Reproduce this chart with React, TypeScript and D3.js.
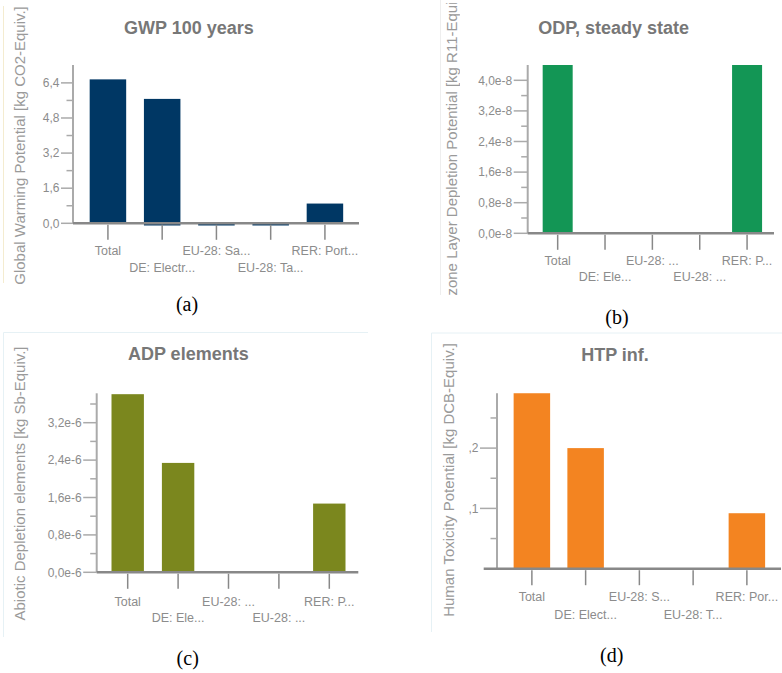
import React from "react";
import * as d3 from "d3";

// ---- data ----
const gwpLabels = ["Total", "DE: Electr...", "EU-28: Sa...", "EU-28: Ta...", "RER: Port..."];
const gwpPos = [6.56, 5.67, 0, 0, 0.9];
const gwpNeg = [0, -0.1, -0.1, -0.1, 0];
const gwpMajor = [0, 1.6, 3.2, 4.8, 6.4];
const gwpMinor = [0.8, 2.4, 4.0, 5.6];

const odpLabels = ["Total", "DE: Ele...", "EU-28: ...", "EU-28: ...", "RER: P..."];
const odpPos = [4.4e-8, 0, 0, 0, 4.4e-8];
const odpNeg = [0, 0, 0, 0, 0];
const odpMajor = [0, 0.8e-8, 1.6e-8, 2.4e-8, 3.2e-8, 4.0e-8];
const odpMinor = [0.4e-8, 1.2e-8, 2.0e-8, 2.8e-8, 3.6e-8];

const adpLabels = ["Total", "DE: Ele...", "EU-28: ...", "EU-28: ...", "RER: P..."];
const adpPos = [3.81e-6, 2.34e-6, 0, 0, 1.47e-6];
const adpNeg = [0, 0, 0, 0, 0];
const adpMajor = [0, 0.8e-6, 1.6e-6, 2.4e-6, 3.2e-6];
const adpMinor = [0.4e-6, 1.2e-6, 2.0e-6, 2.8e-6, 3.6e-6];

const htpLabels = ["Total", "DE: Elect...", "EU-28: S...", "EU-28: T...", "RER: Por..."];
const htpPos = [0.291, 0.2, 0, 0, 0.092];
const htpNeg = [0, 0, 0, 0, 0];
const htpMajor = [0.1, 0.2];
const htpMinor = [0.05, 0.15, 0.25];

const comma = (d: number) => d.toFixed(1).replace(".", ",");
const expFmt = (e: number) => (d: number) => comma(d / Math.pow(10, -e)) + "e-" + e;

const panels = [
  {
    title: "GWP 100 years", yTitle: "Global Warming Potential [kg CO2-Equiv.]",
    labels: gwpLabels, pos: gwpPos, neg: gwpNeg, major: gwpMajor, minor: gwpMinor,
    fmt: comma, color: "#003764",
    axisX: 73, top: 65, zero: 223.3, yMax: 7.215, bandStart: 80.8, step: 54.25, barW: 36.5,
    axisStart: 73, axisEnd: 359, row1: 254.5, row2: 271.5, majorLen: 12,
    titleX: 189, titleY: 34, yTitleX: 20, yTitleY: 145.5,
    border: [[3.5, 6, 3.5, 283]], borderColor: "#f4ecd0",
    clip: null as null | number[], caption: "(a)", capX: 187, capY: 311,
  },
  {
    title: "ODP, steady state", yTitle: "Ozone Layer Depletion Potential [kg R11-Equiv.]",
    labels: odpLabels, pos: odpPos, neg: odpNeg, major: odpMajor, minor: odpMinor,
    fmt: expFmt(8), color: "#139655",
    axisX: 527.7, top: 65, zero: 233.3, yMax: 4.4e-8, bandStart: 534, step: 47.35, barW: 30,
    axisStart: 527.7, axisEnd: 774, row1: 264.5, row2: 281, majorLen: 14,
    titleX: 613.7, titleY: 34, yTitleX: 452, yTitleY: 147,
    border: [[440.5, 0, 440.5, 295]], borderColor: "#eeeeee",
    clip: [430, 3, 30, 292], caption: "(b)", capX: 617, capY: 324,
  },
  {
    title: "ADP elements", yTitle: "Abiotic Depletion elements [kg Sb-Equiv.]",
    labels: adpLabels, pos: adpPos, neg: adpNeg, major: adpMajor, minor: adpMinor,
    fmt: expFmt(6), color: "#7b871e",
    axisX: 96.7, top: 393.3, zero: 572.3, yMax: 3.829e-6, bandStart: 102.5, step: 50.4, barW: 32.4,
    axisStart: 96.7, axisEnd: 358.3, row1: 606, row2: 621.5, majorLen: 13.5,
    titleX: 188.3, titleY: 360, yTitleX: 20, yTitleY: 483.5,
    border: [[3.5, 332.5, 368, 332.5], [3.5, 332.5, 3.5, 637]], borderColor: "#e6f1f5",
    clip: null as null | number[], caption: "(c)", capX: 187.7, capY: 665,
  },
  {
    title: "HTP inf.", yTitle: "Human Toxicity Potential [kg DCB-Equiv.]",
    labels: htpLabels, pos: htpPos, neg: htpNeg, major: htpMajor, minor: htpMinor,
    fmt: (d: number) => comma(d).replace("0,", ","), color: "#f38421",
    axisX: 497, top: 393.3, zero: 568.7, yMax: 0.2909, bandStart: 505, step: 53.75, barW: 36.5,
    axisStart: 483.7, axisEnd: 781, row1: 601, row2: 619, majorLen: 17,
    titleX: 615, titleY: 361, yTitleX: 448.3, yTitleY: 480,
    border: [[431.5, 333, 782, 333], [431.5, 333, 431.5, 632]], borderColor: "#e6f1f5",
    clip: null as null | number[], caption: "(d)", capX: 611.7, capY: 662,
  },
];

const sans = "'Liberation Sans', Arial, sans-serif";

function Panel({ p, i }: { p: (typeof panels)[number]; i: number }) {
  const idx = d3.range(p.labels.length);
  const pad = 1 - p.barW / p.step;
  const x = d3
    .scaleBand<number>()
    .domain(idx)
    .range([p.bandStart, p.bandStart + p.step * idx.length])
    .paddingInner(pad)
    .paddingOuter(pad / 2);
  const y = d3.scaleLinear().domain([0, p.yMax]).range([p.zero, p.top]);
  const clipId = `yt-clip-${i}`;

  return (
    <g>
      {p.border.map((b, k) => (
        <line key={k} x1={b[0]} y1={b[1]} x2={b[2]} y2={b[3]} stroke={p.borderColor} strokeWidth={1} />
      ))}
      {p.clip && (
        <defs>
          <clipPath id={clipId}>
            <rect x={p.clip[0]} y={p.clip[1]} width={p.clip[2]} height={p.clip[3]} />
          </clipPath>
        </defs>
      )}
      <text x={p.titleX} y={p.titleY} textAnchor="middle" fontFamily={sans} fontWeight="bold"
        fontSize={18} fill="#777777">{p.title}</text>
      <g clipPath={p.clip ? `url(#${clipId})` : undefined}>
        <text transform={`translate(${p.yTitleX},${p.yTitleY}) rotate(-90)`} textAnchor="middle"
          dy="0.35em" fontFamily={sans} fontSize={15} fill="#9a9a9a">{p.yTitle}</text>
      </g>

      {/* bars */}
      {idx.map((k) => (
        <g key={k}>
          {p.pos[k] > 0 && (
            <rect x={x(k)} width={x.bandwidth()} y={y(p.pos[k])} height={y(0) - y(p.pos[k])} fill={p.color} />
          )}
          {p.neg[k] < 0 && (
            <rect x={x(k)} width={x.bandwidth()} y={y(0)} height={y(p.neg[k]) - y(0)} fill={p.color} />
          )}
        </g>
      ))}

      {/* y axis */}
      <line x1={p.axisX} x2={p.axisX} y1={p.top} y2={p.zero} stroke="#aaaaaa" strokeWidth={2} />
      {p.major.map((t) => (
        <g key={"M" + t}>
          <line x1={p.axisX - p.majorLen} x2={p.axisX} y1={y(t)} y2={y(t)} stroke="#aaaaaa" strokeWidth={1.5} />
          <text x={p.axisX - p.majorLen - 1.5} y={y(t)} dy="0.35em" textAnchor="end"
            fontFamily={sans} fontSize={12} fill="#8c8c8c">{p.fmt(t)}</text>
        </g>
      ))}
      {p.minor.map((t) => (
        <line key={"m" + t} x1={p.axisX - 6.5} x2={p.axisX} y1={y(t)} y2={y(t)} stroke="#aaaaaa" strokeWidth={1.5} />
      ))}

      {/* x axis */}
      <line x1={p.axisStart} x2={p.axisEnd} y1={y(0)} y2={y(0)} stroke="#888888" strokeWidth={2.5} />
      {idx.map((k) => {
        const cx = (x(k) ?? 0) + x.bandwidth() / 2;
        return (
          <g key={"c" + k}>
            <line x1={cx} x2={cx} y1={y(0) + 1.5} y2={y(0) + 16.5} stroke="#888888" strokeWidth={1.5} />
            <text x={cx} y={k % 2 === 0 ? p.row1 : p.row2} textAnchor="middle" fontFamily={sans}
              fontSize={12.5} fill="#8c8c8c">{p.labels[k]}</text>
          </g>
        );
      })}

      <text x={p.capX} y={p.capY} textAnchor="middle" fontFamily="'Liberation Serif', 'Times New Roman', serif"
        fontSize={20} fill="#000000">{p.caption}</text>
    </g>
  );
}

export default function App() {
  return (
    <svg width={782} height={673} style={{ position: "absolute", left: 0, top: 0, background: "#ffffff" }}>
      {panels.map((p, i) => (
        <Panel key={i} p={p} i={i} />
      ))}
    </svg>
  );
}
